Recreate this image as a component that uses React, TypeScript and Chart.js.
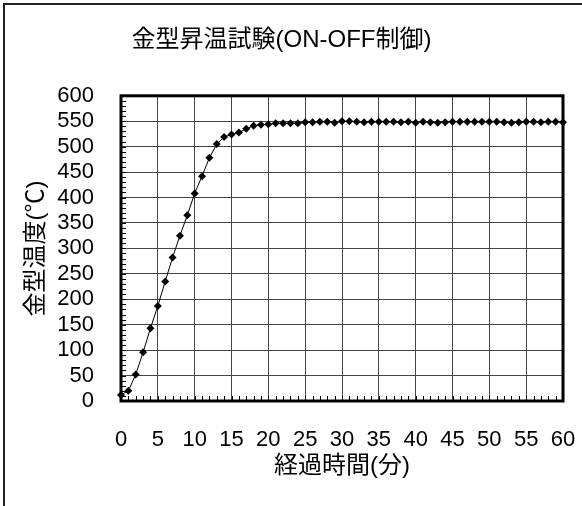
import React, { useEffect, useRef } from "react";
import { Chart, registerables } from "chart.js";

Chart.register(...registerables);

const minutes: number[] = Array.from({ length: 61 }, (_, i) => i);
const temperatures: number[] = [
  12, 20, 52, 96, 143, 187, 235, 282, 325, 365, 408, 442, 478, 505, 519, 524,
  528, 535, 541, 543, 544, 546, 546, 546, 546, 548, 548, 549, 549, 547, 550,
  550, 549, 548, 549, 549, 549, 549, 548, 549, 547, 549, 548, 547, 548, 549,
  549, 549, 549, 549, 549, 549, 548, 547, 548, 549, 549, 548, 549, 549, 548,
];
const xTickStep = 5;
const yTickStep = 50;
const xMax = 60;
const yMax = 600;
const titleText = "金型昇温試験(ON-OFF制御)";
const xTitle = "経過時間(分)";
const yTitle = "金型温度(℃)";

const FONT = "'Liberation Sans', 'Noto Sans CJK JP', sans-serif";

const framePlugin = {
  id: "frameAndMinor",
  beforeDatasetsDraw(chart: any) {
    const { ctx, chartArea, scales } = chart;
    const { left, right, top, bottom } = chartArea;
    ctx.save();
    ctx.strokeStyle = "#000";
    ctx.lineWidth = 1;
    for (let m = 0; m <= xMax; m++) {
      const x = Math.round(scales.x.getPixelForValue(m)) + 0.5;
      ctx.beginPath();
      ctx.moveTo(x, bottom);
      ctx.lineTo(x, bottom - 5);
      ctx.stroke();
    }
    for (let v = 0; v <= yMax; v += 10) {
      const y = Math.round(scales.y.getPixelForValue(v)) + 0.5;
      ctx.beginPath();
      ctx.moveTo(left, y);
      ctx.lineTo(left + 5, y);
      ctx.stroke();
    }
    ctx.lineWidth = 3;
    ctx.strokeRect(left, top, right - left, bottom - top);
    ctx.restore();
  },
};

export default function App() {
  const canvasRef = useRef<HTMLCanvasElement | null>(null);

  useEffect(() => {
    if (!canvasRef.current) return;
    const chart = new Chart(canvasRef.current, {
      type: "line",
      data: {
        datasets: [
          {
            data: minutes.map((m, i) => ({ x: m, y: temperatures[i] })),
            borderColor: "#000",
            borderWidth: 1,
            backgroundColor: "#000",
            pointStyle: "rectRot",
            pointRadius: 4,
            pointBackgroundColor: "#000",
            pointBorderColor: "#000",
            pointBorderWidth: 0,
            tension: 0,
            clip: false,
          },
        ],
      },
      options: {
        animation: false,
        responsive: false,
        maintainAspectRatio: false,
        events: [],
        layout: { padding: { left: 0, right: 19, top: 0, bottom: 0 } },
        plugins: {
          legend: { display: false },
          tooltip: { enabled: false },
          title: {
            display: true,
            text: titleText,
            color: "#000",
            font: { family: FONT, size: 24, weight: "normal" },
            padding: { top: 26, bottom: 41 },
          },
        },
        scales: {
          x: {
            type: "linear",
            min: 0,
            max: xMax,
            afterFit(scale: any) {
              scale.height = 105;
              scale.paddingLeft = 0;
              scale.paddingRight = 0;
            },
            ticks: {
              stepSize: xTickStep,
              color: "#000",
              font: { family: FONT, size: 22 },
              padding: 26,
              maxRotation: 0,
              autoSkip: false,
            },
            grid: { color: "#444", lineWidth: 1, drawTicks: false },
            border: { display: false },
            title: {
              display: true,
              text: xTitle,
              color: "#000",
              font: { family: FONT, size: 24 },
              padding: { top: 0, bottom: 25 },
            },
          },
          y: {
            type: "linear",
            min: 0,
            max: yMax,
            afterFit(scale: any) {
              scale.width = 121;
              scale.paddingTop = 0;
              scale.paddingBottom = 0;
            },
            ticks: {
              stepSize: yTickStep,
              color: "#000",
              font: { family: FONT, size: 22 },
              padding: 27,
              autoSkip: false,
            },
            grid: { color: "#444", lineWidth: 1, drawTicks: false },
            border: { display: false },
            title: {
              display: true,
              text: yTitle,
              color: "#000",
              font: { family: FONT, size: 24 },
              padding: { top: 22, bottom: 0 },
            },
          },
        },
      },
      plugins: [framePlugin],
    });
    return () => chart.destroy();
  }, []);

  return (
    <div
      style={{
        position: "fixed",
        left: 0,
        top: 0,
        width: 582,
        height: 506,
        background: "#fff",
        overflow: "hidden",
      }}
    >
      <canvas
        ref={canvasRef}
        width={582}
        height={506}
        style={{ position: "absolute", left: 0, top: 0, width: 582, height: 506 }}
      />
      <div
        style={{
          position: "absolute",
          left: 3,
          top: 3,
          width: 600,
          height: 600,
          borderLeft: "2px solid #222",
          borderTop: "2px solid #222",
          pointerEvents: "none",
        }}
      />
    </div>
  );
}
